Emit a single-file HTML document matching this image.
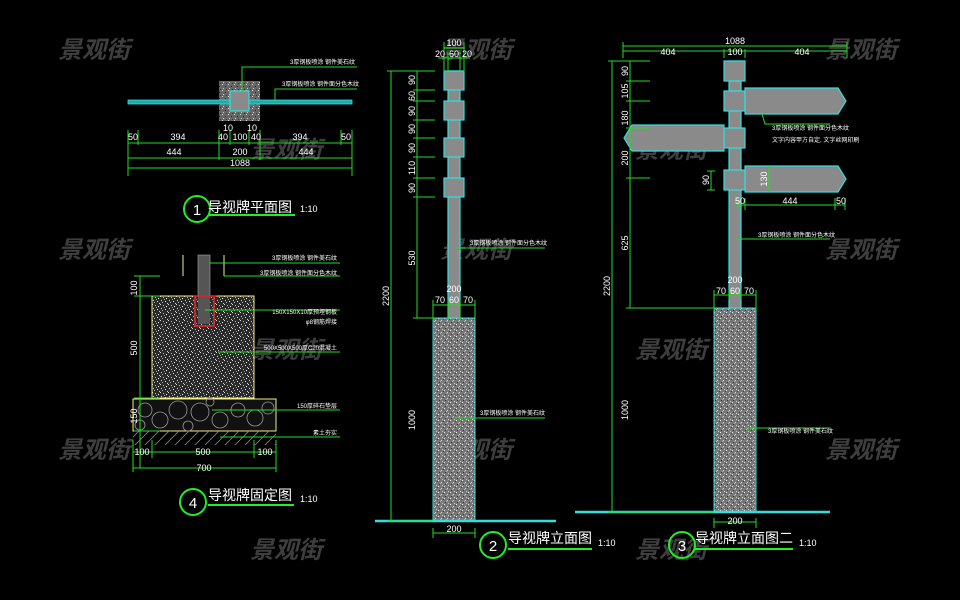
<!DOCTYPE html>
<html><head><meta charset="utf-8"><style>
html,body{margin:0;padding:0;background:#000;}
svg{display:block}
text{font-family:"Liberation Sans","Noto Sans CJK SC",sans-serif;}
.wm{fill:#3e3e3e;font-size:24px;font-style:italic;font-weight:bold;font-family:"Noto Sans CJK SC","WenQuanYi Zen Hei",sans-serif;}
.d{fill:#fff;font-size:9px;}
.n{fill:#fff;font-size:6px;}
.t{fill:#fff;font-size:14px;font-family:"Noto Sans CJK SC","WenQuanYi Zen Hei",sans-serif;}
.g{stroke:#22dd22;stroke-width:1;fill:none}
.c{stroke:#33dddd;stroke-width:1.2;fill:#8a8a8a}
</style></head><body>
<svg width="960" height="600" viewBox="0 0 960 600" xmlns="http://www.w3.org/2000/svg">
<defs>
<pattern id="sp" width="8" height="8" patternUnits="userSpaceOnUse">
<rect width="8" height="8" fill="#2a2a2a"/>
<rect x="0" y="0" width="1" height="1" fill="#ddd"/><rect x="3" y="1" width="1" height="1" fill="#bbb"/>
<rect x="6" y="2" width="1" height="1" fill="#eee"/><rect x="1" y="4" width="1" height="1" fill="#ccc"/>
<rect x="5" y="5" width="1" height="1" fill="#ddd"/><rect x="2" y="6" width="1" height="1" fill="#aaa"/>
<rect x="7" y="7" width="1" height="1" fill="#ccc"/><rect x="4" y="3" width="1" height="1" fill="#999"/>
</pattern>
<pattern id="sp1" width="6" height="6" patternUnits="userSpaceOnUse">
<rect width="6" height="6" fill="#666"/>
<rect x="0" y="0" width="1" height="1" fill="#ddd"/><rect x="3" y="2" width="1" height="1" fill="#222"/>
<rect x="1" y="4" width="1" height="1" fill="#ccc"/><rect x="4" y="5" width="1" height="1" fill="#333"/>
</pattern>
<pattern id="sp2" width="6" height="6" patternUnits="userSpaceOnUse">
<rect width="6" height="6" fill="#777"/>
<rect x="0" y="0" width="1" height="1" fill="#eee"/><rect x="3" y="2" width="1" height="1" fill="#ddd"/>
<rect x="1" y="4" width="1" height="1" fill="#333"/><rect x="4" y="5" width="1" height="1" fill="#ccc"/>
<rect x="5" y="1" width="1" height="1" fill="#444"/><rect x="2" y="3" width="1" height="1" fill="#bbb"/>
</pattern>
<pattern id="hat" width="10" height="10" patternUnits="userSpaceOnUse">
<path d="M0 10 L10 0" stroke="#888" stroke-width="0.8"/>
</pattern>
</defs>

<g class="wm">
<text x="58" y="58">景观街</text><text x="440" y="58">景观街</text><text x="825" y="58">景观街</text>
<text x="250" y="158">景观街</text><text x="635" y="158">景观街</text>
<text x="58" y="258">景观街</text><text x="440" y="258">景观街</text><text x="825" y="258">景观街</text>
<text x="250" y="358">景观街</text><text x="635" y="358">景观街</text>
<text x="58" y="458">景观街</text><text x="440" y="458">景观街</text><text x="825" y="458">景观街</text>
<text x="250" y="558">景观街</text><text x="635" y="558">景观街</text>
</g>

<!-- 1 plan -->
<rect x="219" y="81" width="41" height="40" fill="url(#sp1)"/>
<rect x="128" y="100" width="104" height="4" fill="#2aa" stroke="#3dd" stroke-width="0.8"/>
<rect x="248" y="100" width="104" height="4" fill="#2aa" stroke="#3dd" stroke-width="0.8"/>
<rect x="230" y="91" width="19" height="20" class="c"/>
<path class="g" d="M242 92 V67 H357 M275 100 V89 H357"/>
<text class="n" x="290" y="64">3厚钢板喷涂 钢件美石纹</text>
<text class="n" x="282" y="86">3厚钢板喷涂 钢件面分色木纹</text>
<path class="g" d="M128 130 V176 M138 130 V145 M219 130 V160 M230 130 V145 M249 130 V145 M260 130 V160 M341 130 V145 M352 130 V176 M128 143 H352 M128 158 H352 M128 168 H352"/>
<g class="d" text-anchor="middle">
<text x="133" y="140">50</text><text x="178" y="140">394</text><text x="223" y="140">40</text><text x="240" y="140">100</text><text x="256" y="140">40</text><text x="300" y="140">394</text><text x="346" y="140">50</text>
<text x="228" y="131">10</text><text x="252" y="131">10</text>
<text x="174" y="155">444</text><text x="240" y="155">200</text><text x="306" y="155">444</text>
<text x="240" y="166">1088</text>
</g>
<circle cx="197" cy="209" r="13" fill="none" stroke="#2e2" stroke-width="2"/>
<text x="197" y="215" fill="#fff" font-size="15" text-anchor="middle">1</text>
<text class="t" x="208" y="212">导视牌平面图</text>
<line x1="209" y1="215" x2="295" y2="215" stroke="#2e2" stroke-width="2"/>
<text class="d" x="300" y="212">1:10</text>

<!-- 4 fix -->
<line x1="183" y1="255" x2="183" y2="276" stroke="#ee8" /><line x1="224" y1="255" x2="224" y2="276" stroke="#ee8"/>
<rect x="198" y="255" width="12" height="70" fill="#555" stroke="#aaa" stroke-width="0.6"/>
<rect x="152" y="296" width="102" height="102" fill="url(#sp)" stroke="#ee8" stroke-width="1"/>
<rect x="198" y="296" width="12" height="28" fill="#555"/>
<path d="M193 296 H217 M195 296 V326 H214 V296" stroke="#e22" stroke-width="1.5" fill="none"/>
<rect x="133" y="399" width="143" height="32" fill="#111" stroke="#ee8" stroke-width="1"/>
<g stroke="#999" stroke-width="0.8" fill="none">
<circle cx="145" cy="410" r="7"/><circle cx="160" cy="420" r="8"/><circle cx="178" cy="410" r="9"/><circle cx="200" cy="412" r="9"/><circle cx="220" cy="420" r="8"/><circle cx="238" cy="410" r="7"/><circle cx="255" cy="418" r="8"/><circle cx="268" cy="408" r="6"/><circle cx="140" cy="425" r="5"/><circle cx="188" cy="426" r="5"/><circle cx="210" cy="402" r="4"/>
</g>
<rect x="133" y="431" width="143" height="14" fill="url(#hat)"/>
<path class="g" d="M210 263 H340 M224 276 H340 M205 310 H340 M218 352 H340 M212 410 H340 M220 437 H340 M140 276 V468 M134 276 H160 M134 296 H160 M134 398 H160 M134 431 H160 M133 440 V472 M152 440 V458 M254 440 V458 M276 440 V472 M133 452 H276 M133 468 H276"/>
<g class="n" text-anchor="end">
<text x="337" y="260">3厚钢板喷涂 钢件美石纹</text><text x="337" y="275">3厚钢板喷涂 钢件面分色木纹</text>
<text x="337" y="314">150X150X10厚预埋钢板</text><text x="337" y="324">φ8钢筋焊接</text>
<text x="337" y="350">500X500X500厚C20混凝土</text><text x="337" y="408">150厚碎石垫层</text><text x="337" y="435">素土夯实</text>
</g>
<g class="d" text-anchor="middle">
<text transform="translate(137,288) rotate(-90)">100</text>
<text transform="translate(137,348) rotate(-90)">500</text>
<text transform="translate(137,416) rotate(-90)">150</text>
<text x="142" y="455">100</text><text x="203" y="455">500</text><text x="265" y="455">100</text><text x="204" y="471">700</text>
</g>
<circle cx="193" cy="502" r="13" fill="none" stroke="#2e2" stroke-width="2"/>
<text x="193" y="508" fill="#fff" font-size="15" text-anchor="middle">4</text>
<text class="t" x="208" y="500">导视牌固定图</text>
<line x1="208" y1="505" x2="294" y2="505" stroke="#2e2" stroke-width="2"/>
<text class="d" x="300" y="502">1:10</text>

<!-- 2 elevation -->
<rect x="448" y="71" width="12" height="248" class="c"/>
<rect x="444" y="71" width="20" height="19" class="c"/>
<rect x="444" y="101" width="20" height="19" class="c"/>
<rect x="444" y="138" width="20" height="19" class="c"/>
<rect x="444" y="178" width="20" height="19" class="c"/>
<rect x="433" y="318" width="42" height="203" fill="url(#sp2)" stroke="#3dd" stroke-width="1"/>
<line x1="375" y1="521" x2="556" y2="521" stroke="#3dd" stroke-width="2.5"/>
<path class="g" d="M387 71 H435 M391 71 V521 M387 521 H433 M417 71 V318 M413 90 H435 M413 101 H435 M413 120 H435 M413 138 H435 M413 157 H435 M413 178 H435 M413 197 H435 M413 318 H435 M444 42 V72 M464 42 V72 M448 52 V72 M460 52 V72 M444 48 H464 M438 58 H470 M433 300 V320 M475 300 V320 M448 300 V320 M460 300 V320 M433 305 H475 M455 248 H545 M455 418 H545 M433 528 V538 M475 528 V538 M433 533 H475"/>
<g class="d" text-anchor="middle">
<text x="454" y="46">100</text><text x="440" y="57">20</text><text x="454" y="57">60</text><text x="467" y="57">20</text>
<text transform="translate(415,80) rotate(-90)">90</text><text transform="translate(415,96) rotate(-90)">60</text>
<text transform="translate(415,111) rotate(-90)">90</text><text transform="translate(415,129) rotate(-90)">90</text>
<text transform="translate(415,148) rotate(-90)">90</text><text transform="translate(415,168) rotate(-90)">110</text>
<text transform="translate(415,188) rotate(-90)">90</text><text transform="translate(415,258) rotate(-90)">530</text>
<text transform="translate(415,420) rotate(-90)">1000</text><text transform="translate(389,296) rotate(-90)">2200</text>
<text x="454" y="292">200</text><text x="440" y="303">70</text><text x="454" y="303">60</text><text x="468" y="303">70</text>
<text x="454" y="532">200</text>
</g>
<text class="n" x="470" y="245">3厚钢板喷涂 钢件面分色木纹</text>
<text class="n" x="480" y="415">3厚钢板喷涂 钢件美石纹</text>
<circle cx="493" cy="545" r="13" fill="none" stroke="#2e2" stroke-width="2"/>
<text x="493" y="551" fill="#fff" font-size="15" text-anchor="middle">2</text>
<text class="t" x="508" y="543">导视牌立面图</text>
<line x1="508" y1="549" x2="592" y2="549" stroke="#2e2" stroke-width="2"/>
<text class="d" x="598" y="546">1:10</text>

<!-- 3 elevation -->
<rect x="729" y="61" width="12" height="248" class="c"/>
<rect x="724" y="61" width="21" height="20" class="c"/>
<rect x="724" y="91" width="21" height="20" class="c"/>
<rect x="724" y="128" width="21" height="20" class="c"/>
<rect x="724" y="170" width="21" height="20" class="c"/>
<path d="M745 88 H838 L846 101 L838 114 H745 Z" class="c"/>
<path d="M724 125 H632 L624 138 L632 151 H724 Z" class="c"/>
<path d="M745 166 H838 L846 179 L838 192 H745 Z" class="c"/>
<rect x="714" y="308" width="42" height="204" fill="url(#sp2)" stroke="#3dd" stroke-width="1"/>
<line x1="575" y1="512" x2="830" y2="512" stroke="#3dd" stroke-width="2.5"/>
<path class="g" d="M623 46 H847 M623 51 H847 M623 42 V58 M847 42 V58 M724 49 V58 M745 49 V58 M608 61 H650 M612 61 V512 M608 512 H714 M630 61 V308 M626 81 H650 M626 101 H650 M626 128 H650 M626 178 H650 M626 308 H714 M711 171 V190 M707 171 H715 M707 190 H715 M769 166 V192 M738 210 V200 M745 198 V210 M835 198 V210 M845 198 V210 M738 205 H845 M762 114 L765 124 H830 M736 239 H830 M714 290 V310 M756 290 V310 M714 295 H756 M729 290 V300 M741 290 V300 M745 428 H830 M714 518 V528 M756 518 V528 M714 522 H756"/>
<g class="d" text-anchor="middle">
<text x="735" y="44">1088</text><text x="668" y="55">404</text><text x="735" y="55">100</text><text x="802" y="55">404</text>
<text transform="translate(628,71) rotate(-90)">90</text><text transform="translate(628,91) rotate(-90)">105</text>
<text transform="translate(628,118) rotate(-90)">180</text><text transform="translate(628,158) rotate(-90)">200</text>
<text transform="translate(628,243) rotate(-90)">625</text><text transform="translate(628,410) rotate(-90)">1000</text>
<text transform="translate(610,286) rotate(-90)">2200</text>
<text transform="translate(709,180) rotate(-90)">90</text><text transform="translate(767,179) rotate(-90)">130</text>
<text x="740" y="204">50</text><text x="790" y="204">444</text><text x="841" y="204">50</text>
<text x="735" y="283">200</text><text x="721" y="294">70</text><text x="735" y="294">60</text><text x="749" y="294">70</text>
<text x="735" y="524">200</text>
</g>
<text class="n" x="772" y="130">3厚钢板喷涂 钢件面分色木纹</text>
<text class="n" x="772" y="142">文字内容甲方自定, 文字丝网印刷</text>
<text class="n" x="758" y="237">3厚钢板喷涂 钢件面分色木纹</text>
<text class="n" x="768" y="433">3厚钢板喷涂 钢件美石纹</text>
<circle cx="682" cy="545" r="13" fill="none" stroke="#2e2" stroke-width="2"/>
<text x="682" y="551" fill="#fff" font-size="15" text-anchor="middle">3</text>
<text class="t" x="695" y="543">导视牌立面图二</text>
<line x1="695" y1="549" x2="793" y2="549" stroke="#2e2" stroke-width="2"/>
<text class="d" x="799" y="546">1:10</text>
</svg>
</body></html>
